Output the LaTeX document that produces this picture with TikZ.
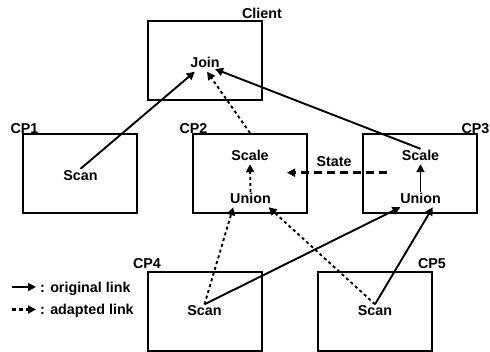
\documentclass[tikz,border=0pt]{standalone}
\usepackage{fontspec}
\setmainfont{Liberation Sans}
\usetikzlibrary{arrows.meta,calc}
\begin{document}
\begin{tikzpicture}[x=1pt,y=-1pt,
  box/.style={draw,line width=2pt,minimum width=114pt,minimum height=79pt,inner sep=0pt},
  lbl/.style={font=\fontsize{14.3}{16}\selectfont\bfseries,inner sep=1pt,text height=10pt,text depth=3pt,anchor=base},
  tip/.style={-{Triangle[length=8pt,width=8pt]}},
  orig/.style={tip,line width=1.9pt},
  adapt/.style={tip,line width=1.9pt,dash pattern=on 3pt off 3pt},
  statelink/.style={-{Triangle[length=8pt,width=8pt]},line width=2.8pt,dash pattern=on 8pt off 5pt}]
\useasboundingbox (0,0) rectangle (490,351);
% boxes
\node[box] (client) at (204.5,60.5) {};
\node[box] (cp1) at (80,173.5) {};
\node[box] (cp2) at (250,173.5) {};
\node[box] (cp3) at (420,173.5) {};
\node[box] (cp4) at (205,311) {};
\node[box] (cp5) at (375,311) {};
% box labels
\node[lbl] (lclient) at (262,18) {Client};
\node[lbl] (lcp1) at (24.5,133) {CP1};
\node[lbl] (lcp2) at (193.5,133) {CP2};
\node[lbl] (lcp3) at (475.5,133) {CP3};
\node[lbl] (lcp4) at (147,268) {CP4};
\node[lbl] (lcp5) at (432,268) {CP5};
% operators
\node[lbl] (join) at (205,67.5) {Join};
\node[lbl] (scan1) at (80.5,180) {Scan};
\node[lbl] (scale2) at (250,160) {Scale};
\node[lbl] (union2) at (250.5,203) {Union};
\node[lbl] (scale3) at (420.5,160) {Scale};
\node[lbl] (union3) at (420.5,203) {Union};
\node[lbl] (scan4) at (204.5,315.5) {Scan};
\node[lbl] (scan5) at (375,315.5) {Scan};
\node[lbl] (state) at (334,166.5) {State};
% links
\draw[orig] (scan1.north) -- (join.217);
\draw[adapt] (cp2.north) -- (join.285);
\draw[orig] (scale3.north) -- ($(join.center)+(10,5)$);
\draw[adapt] (union2.north) -- (scale2.south);
\draw[orig] (union3.north) -- (scale3.south);
\coordinate (sfrom) at (387,172.7);
\coordinate (sto) at (287,172.7);
\draw[statelink] (sfrom) -- (sto);
\draw[adapt] (scan4.north) -- (union2.204);
\draw[adapt] (scan5.north) -- (union2.337);
\draw[orig] (scan4.north) -- (union3.201);
\draw[orig] (scan5.north) -- (union3.328);
% legend
\coordinate (l1a) at (12,287);
\coordinate (l1b) at (36,287);
\coordinate (l2a) at (12,309.5);
\coordinate (l2b) at (36,309.5);
\draw[orig] (l1a) -- (l1b);
\draw[adapt,line width=2.2pt,dash pattern=on 3.5pt off 3.5pt] (l2a) -- (l2b);
\node[lbl,anchor=base west] (leg1) at (39,292) {: original link};
\node[lbl,anchor=base west] (leg2) at (39,314.5) {: adapted link};
\end{tikzpicture}
\end{document}
